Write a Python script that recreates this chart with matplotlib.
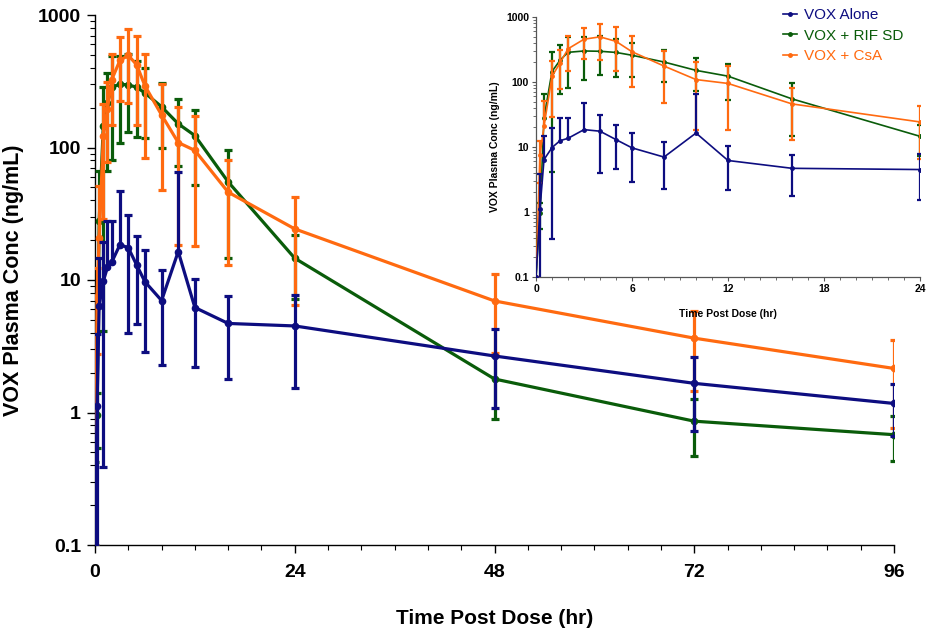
import numpy as np
import matplotlib.pyplot as plt
from matplotlib.ticker import LogLocator, MultipleLocator, FixedLocator, NullFormatter, FixedFormatter

nan = np.nan

time_hr = [0, 0.25, 0.5, 1, 1.5, 2, 3, 4, 5, 6, 8, 10, 12, 16, 24, 48, 72, 96]

# VOX alone
alone_mean = [0.1, 1.12, 6.4, 9.8, 12.5, 13.6, 18.5, 17.5, 13.0, 9.7, 7.0, 16.4, 6.2, 4.7, 4.5, 2.67, 1.66, 1.17]
alone_hi = [nan, 3.9, 14.6, 19.5, 27.8, 27.8, 47, 31, 21.5, 16.7, 11.8, 65, 10.2, 7.6, 7.7, 4.27, 2.61, 1.63]
alone_lo = [nan, 0.05, nan, 0.39, nan, nan, nan, 4.0, 4.65, 2.85, 2.29, nan, 2.2, 1.78, 1.53, 1.08, 0.72, 0.67]

# VOX + RIF SD
rif_mean = [0.1, 0.95, 28, 145, 216, 286, 300, 297, 285, 258, 203, 151, 123, 55, 14.6, 1.79, 0.86, 0.68]
rif_hi = [0.42, 1.4, 66, 286, 366, 492, 492, 504, 453, 398, 307, 231, 192, 95, 22, 2.68, 1.26, 0.94]
rif_lo = [nan, 0.54, nan, 4.1, 66, 81, 109, 130, 119, 118, 99, 72, 52, 14.6, 7.2, 0.90, 0.47, 0.43]

# VOX + CsA
csa_mean = [0.1, 7.5, 20.8, 122, 196, 324, 455, 495, 422, 292, 176, 109, 95, 46, 24.3, 6.95, 3.64, 2.15]
csa_hi = [nan, 12.4, 51, 213, 314, 504, 677, 780, 693, 504, 303, 201, 174, 81, 42.3, 11.1, 5.83, 3.52]
csa_lo = [nan, 2.75, nan, 29, 78, 149, 226, 215, 149, 84, 47.5, 18.5, 18, 13, 6.5, 2.8, 1.46, 0.77]

labels = ["VOX Alone", "VOX + RIF SD", "VOX + CsA"]
colors = ["#0d0d80", "#0a5c0a", "#ff6a10"]

series = [
    (alone_mean, alone_hi, alone_lo, colors[0], labels[0], 5),
    (rif_mean, rif_hi, rif_lo, colors[1], labels[1], 3),
    (csa_mean, csa_hi, csa_lo, colors[2], labels[2], 4),
]


def draw(ax, lw, ms, elw, capw):
    handles = []
    t = np.array(time_hr, dtype=float)
    for mean, hi, lo, color, label, z in series:
        m = np.array(mean, dtype=float)
        h = np.array(hi, dtype=float)
        l = np.array(lo, dtype=float)
        top = np.where(np.isnan(h), m, h)
        bot = np.where(np.isnan(l), m, l)
        ax.vlines(t, bot, top, color=color, lw=elw, zorder=z)
        ax.plot(t[~np.isnan(h)], h[~np.isnan(h)], ls='', marker='_', ms=capw, mew=elw,
                color=color, zorder=z)
        ax.plot(t[~np.isnan(l)], l[~np.isnan(l)], ls='', marker='_', ms=capw, mew=elw,
                color=color, zorder=z)
        line, = ax.plot(t, m, color=color, lw=lw, marker='o', ms=ms, label=label, zorder=z)
        handles.append(line)
    return handles


fig = plt.figure(figsize=(9.3, 6.28), dpi=100)

# main axes
ax = fig.add_axes([95 / 930, 1 - 545 / 628, (894 - 95) / 930, (545 - 15) / 628])
draw(ax, lw=2.3, ms=4.5, elw=2.3, capw=6)
ax.set_yscale('log')
ax.set_ylim(0.1, 1000)
ax.set_xlim(0, 96)
ax.xaxis.set_major_locator(FixedLocator([0, 24, 48, 72, 96]))
ax.xaxis.set_minor_locator(MultipleLocator(4))
ax.yaxis.set_major_locator(FixedLocator([0.1, 1, 10, 100, 1000]))
ax.yaxis.set_major_formatter(FixedFormatter(["0.1", "1", "10", "100", "1000"]))
ax.yaxis.set_minor_locator(LogLocator(base=10, subs=np.arange(2, 10)))
ax.yaxis.set_minor_formatter(NullFormatter())
for s in ['top', 'right']:
    ax.spines[s].set_visible(False)
for s in ['left', 'bottom']:
    ax.spines[s].set_linewidth(1.0)
ax.tick_params(which='major', length=6, width=1.0, labelsize=14, pad=4)
ax.tick_params(axis='x', which='major', pad=8)
ax.tick_params(which='minor', length=3.5, width=0.8)
for lab in ax.get_xticklabels() + ax.get_yticklabels():
    lab.set_fontfamily('Liberation Sans')
    lab.set_fontweight('bold')
ax.set_xlabel("Time Post Dose (hr)", fontsize=15, fontweight='bold',
              family='Liberation Sans', labelpad=20)
ax.set_ylabel("VOX Plasma Conc (ng/mL)", fontsize=15.5, fontweight='bold',
              family='Liberation Sans', labelpad=10)

# inset
ax_in = fig.add_axes([536 / 930, 1 - 277 / 628, (920 - 536) / 930, (277 - 17) / 628])
ax_in.patch.set_alpha(0)
handles = draw(ax_in, lw=1.2, ms=2.5, elw=1.6, capw=4)
ax_in.set_yscale('log')
ax_in.set_ylim(0.1, 1000)
ax_in.set_xlim(0, 24)
ax_in.xaxis.set_major_locator(FixedLocator([0, 6, 12, 18, 24]))
ax_in.xaxis.set_minor_locator(MultipleLocator(1))
ax_in.yaxis.set_major_locator(FixedLocator([0.1, 1, 10, 100, 1000]))
ax_in.yaxis.set_major_formatter(FixedFormatter(["0.1", "1", "10", "100", "1000"]))
ax_in.yaxis.set_minor_locator(LogLocator(base=10, subs=np.arange(2, 10)))
ax_in.yaxis.set_minor_formatter(NullFormatter())
for s in ['top', 'right']:
    ax_in.spines[s].set_visible(False)
for s in ['left', 'bottom']:
    ax_in.spines[s].set_linewidth(0.9)
    ax_in.spines[s].set_color('#555555')
ax_in.tick_params(which='major', length=3, width=0.8, labelsize=7.5, pad=2, color='#555555')
ax_in.tick_params(which='minor', length=2, width=0.6, color='#555555')
for lab in ax_in.get_xticklabels() + ax_in.get_yticklabels():
    lab.set_fontfamily('Liberation Sans')
    lab.set_fontweight('bold')
ax_in.set_xlabel("Time Post Dose (hr)", fontsize=7.5, fontweight='bold',
                 family='Liberation Sans', labelpad=11)
ax_in.set_ylabel("VOX Plasma Conc (ng/mL)", fontsize=7.5, fontweight='bold',
                 family='Liberation Sans', labelpad=4)

leg = ax_in.legend(handles=handles, loc='upper left', bbox_to_anchor=(0.635, 1.045),
                   frameon=False, fontsize=11, handlelength=0.9, handletextpad=0.5,
                   labelspacing=0.42, borderaxespad=0, borderpad=0.2)
for txt, c in zip(leg.get_texts(), colors):
    txt.set_color(c)
    txt.set_fontfamily('Liberation Sans')

fig.savefig("out.png", dpi=100)
